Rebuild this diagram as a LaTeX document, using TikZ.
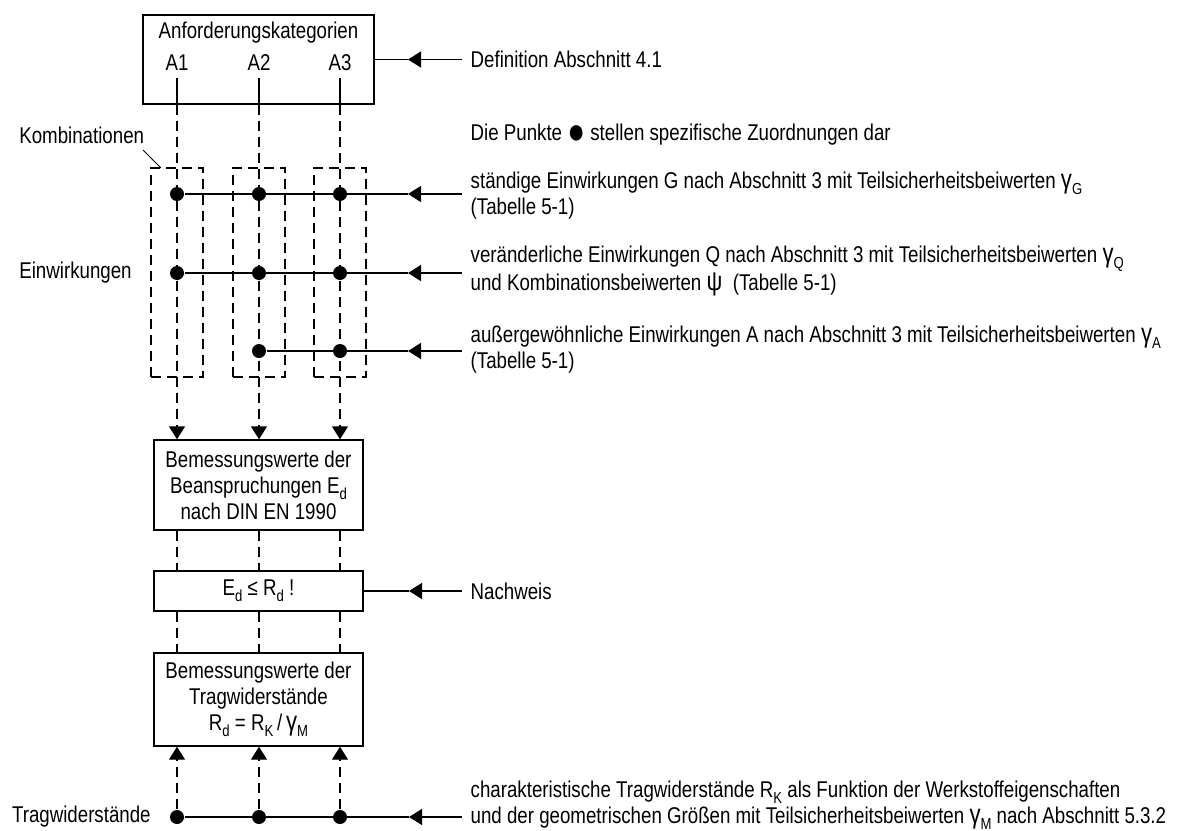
\documentclass[tikz,border=0pt]{standalone}
\usepackage{fontspec}
\setmainfont{Liberation Sans}[FakeStretch=0.82]
\usepackage{tikz}
\usetikzlibrary{arrows.meta,positioning}
\newcommand\lowsub[1]{\raisebox{-0.5ex}{\footnotesize #1}}
\newcommand\bigsym[1]{{\fontsize{13.5}{13.5}\selectfont #1}}

\begin{document}
\begin{tikzpicture}[x=0.5pt,y=-0.5pt,line width=0.7pt,
    font=\fontsize{11.4}{13}\selectfont,
    >={Triangle[length=6.5pt,width=8pt]},
    kdash/.style={dash pattern=on 5pt off 3pt},
    dot/.style={circle,fill,inner sep=0pt,minimum size=7pt},
    kbox/.style={draw,kdash,minimum width=26pt,minimum height=104.5pt},
    bbox/.style={draw,align=center,minimum width=104.5pt,inner sep=0pt},
    rtext/.style={anchor=west,align=left,inner sep=4pt}]
        \useasboundingbox (0,0) rectangle (1187,830);
        \path
        % top
        (258.5,59.5) node[draw,minimum width=115.5pt,minimum height=44.5pt](kat) {}
        (258.5,33) node(katname) {Anforderungskategorien}
        (177,63) node(a1) {A1}
        (259,63) node(a2) {A2}
        (340,63) node(a3) {A3}
        (408,59.5) coordinate(deftip)
        (462,59.5) node[rtext](def) {Definition Abschnitt 4.1}
        (462,135) node[rtext](punkte) {Die Punkte \raisebox{-0.2ex}{\fontsize{18}{18}\selectfont ●} stellen spezifische Zuordnungen dar}

        % combinations
        (12,135) node[anchor=west](kombi) {Kombinationen}
        (143,150) coordinate(kfrom)
        (161,168) coordinate(kto)
        (177,272.5) node[kbox](k1) {}
        (259,272.5) node[kbox](k2) {}
        (340,272.5) node[kbox](k3) {}
        (12,273) node[anchor=west](einw) {Einwirkungen}

        (177,194) node[dot](g1) {}
        (259,194) node[dot](g2) {}
        (340,194) node[dot](g3) {}
        (408,194) coordinate(gtip)
        (462,196) node[rtext](gtext) {ständige Einwirkungen G nach Abschnitt 3 mit Teilsicherheitsbeiwerten \bigsym{γ}\lowsub{G}\\(Tabelle 5-1)}

        (177,273) node[dot](q1) {}
        (259,273) node[dot](q2) {}
        (340,273) node[dot](q3) {}
        (408,273) coordinate(qtip)
        (462,271) node[rtext](qtext) {veränderliche Einwirkungen Q nach Abschnitt 3 mit Teilsicherheitsbeiwerten \bigsym{γ}\lowsub{Q}\\und Kombinationsbeiwerten \bigsym{ψ}\ \ (Tabelle 5-1)}

        (259,351) node[dot](acc2) {}
        (340,351) node[dot](acc3) {}
        (408,351) coordinate(acctip)
        (462,350) node[rtext](acctext) {außergewöhnliche Einwirkungen A nach Abschnitt 3 mit Teilsicherheitsbeiwerten \bigsym{γ}\lowsub{A}\\(Tabelle 5-1)}

        % boxes
        (258.5,485) node[bbox,minimum height=45pt](ed) {Bemessungswerte der\\Beanspruchungen E\lowsub{d}\\nach DIN EN 1990}
        (258.5,591) node[bbox,minimum height=20pt](nw) {E\lowsub{d} ≤ R\lowsub{d} !}
        (409,591) coordinate(nwtip)
        (462,591) node[rtext](nwtext) {Nachweis}
        (258.5,699.5) node[bbox,minimum height=46.5pt](rd) {Bemessungswerte der\\Tragwiderstände\\R\lowsub{d} = R\lowsub{K}\,/\,\bigsym{γ}\lowsub{M}}

        % bottom
        (158,817) node[anchor=east](trag) {Tragwiderstände}
        (177,817) node[dot](r1) {}
        (259,817) node[dot](r2) {}
        (340,817) node[dot](r3) {}
        (409,817) coordinate(rtip)
        (462,805) node[rtext](rtext) {charakteristische Tragwiderstände R\lowsub{K} als Funktion der Werkstoffeigenschaften\\und der geometrischen Größen mit Teilsicherheitsbeiwerten \bigsym{γ}\lowsub{M} nach Abschnitt 5.3.2}
        ;

        \draw (a1) -- (a1|-kat.south);
        \draw (a2) -- (a2|-kat.south);
        \draw (a3) -- (a3|-kat.south);
        \draw[kdash,->] (a1|-kat.south) -- (a1|-ed.north);
        \draw[kdash,->] (a2|-kat.south) -- (a2|-ed.north);
        \draw[kdash,->] (a3|-kat.south) -- (a3|-ed.north);
        \draw[->] (def.west) -- (deftip);
        \draw (deftip) -- (kat.east);

        \draw[line width=0.4pt] (kfrom) -- (kto);

        \draw[->] (gtext.west|-g1) -- (gtip);
        \draw (gtip) -- (g1);
        \draw[->] (qtext.west|-q1) -- (qtip);
        \draw (qtip) -- (q1);
        \draw[->] (acctext.west|-acc2) -- (acctip);
        \draw (acctip) -- (acc2);

        \draw[kdash] (a1|-ed.south) -- (a1|-nw.north);
        \draw[kdash] (a2|-ed.south) -- (a2|-nw.north);
        \draw[kdash] (a3|-ed.south) -- (a3|-nw.north);
        \draw[->] (nwtext.west) -- (nwtip);
        \draw (nwtip) -- (nw.east);
        \draw[kdash] (a1|-nw.south) -- (a1|-rd.north);
        \draw[kdash] (a2|-nw.south) -- (a2|-rd.north);
        \draw[kdash] (a3|-nw.south) -- (a3|-rd.north);

        \draw[kdash,->] (r1) -- (r1|-rd.south);
        \draw[kdash,->] (r2) -- (r2|-rd.south);
        \draw[kdash,->] (r3) -- (r3|-rd.south);
        \draw[->] (rtext.west|-r1) -- (rtip);
        \draw (rtip) -- (r1);
      \end{tikzpicture}
\end{document}
